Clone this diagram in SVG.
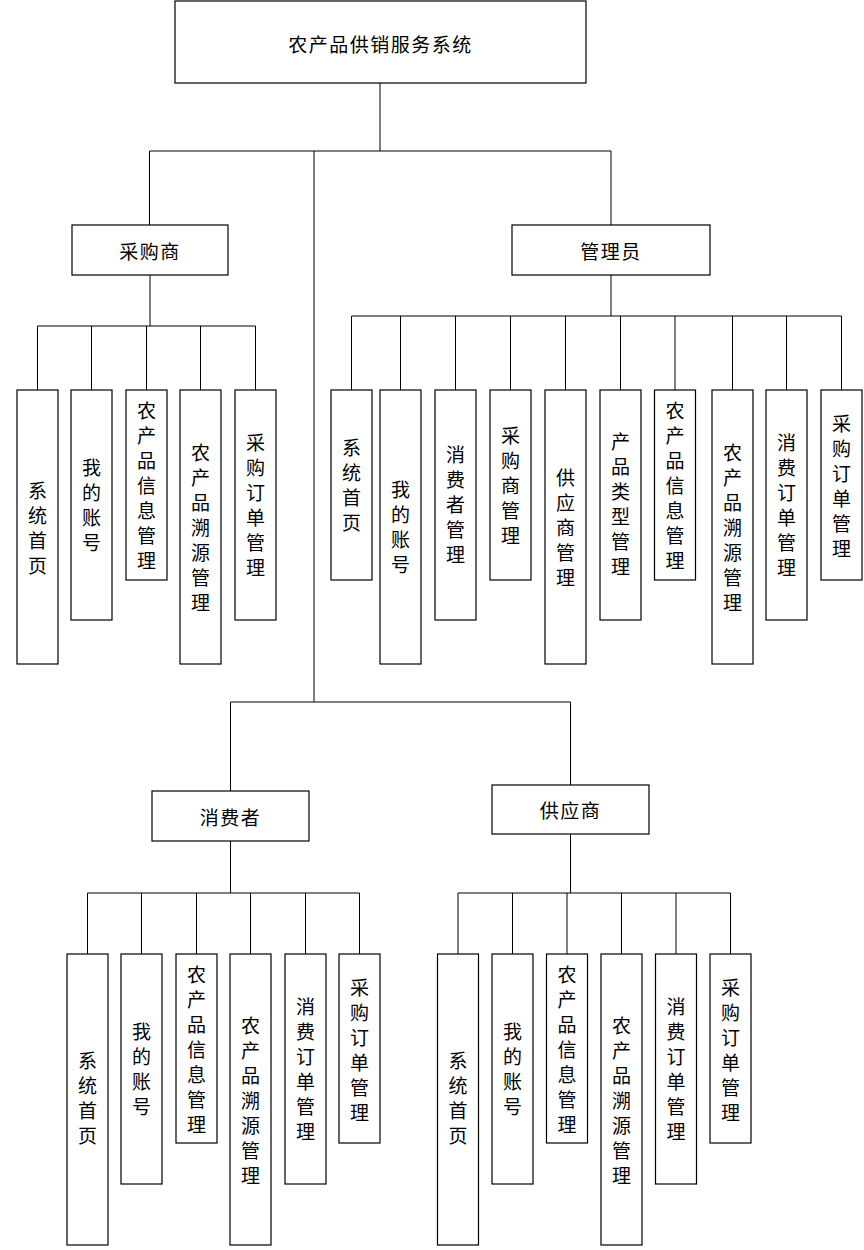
<svg xmlns="http://www.w3.org/2000/svg" width="864" height="1250" viewBox="0 0 864 1250">
<style>
.box{fill:#fff;stroke:#000;stroke-width:1.2}
.ln{stroke:#000;stroke-width:1;fill:none}
text{font-family:"Noto Sans CJK SC","Liberation Sans",sans-serif;font-size:19px;fill:#000;text-anchor:middle;dominant-baseline:central}
.h{font-size:19px;letter-spacing:1.5px}
</style>
<rect width="864" height="1250" fill="#fff"/>
<g id="connectors" class="ln">
<path d="M380 83V151M149.5 151H611M149.5 151V225M611 151V225M314 151V702M230.5 702H570.5M230.5 702V791M570.5 702V785"/>
<path d="M150 275V326M37.5 326H255.5M37.5 326V390M91.5 326V390M146.5 326V390M200.5 326V390M255.5 326V390"/>
<path d="M611 275V316M351.5 316H841.5M351.5 316V390M400.5 316V390M455.5 316V390M510.5 316V390M565.5 316V390M620.5 316V390M675 316V390M732.5 316V390M786.5 316V390M841.5 316V390"/>
<path d="M230.5 841V893M87.5 893H359.5M87.5 893V954M141.5 893V954M196.5 893V954M250.5 893V954M305.5 893V954M359.5 893V954"/>
<path d="M570.5 834V893M458 893H730.5M458 893V954M512.5 893V954M567 893V954M621.5 893V954M676 893V954M730.5 893V954"/>
</g>
<g id="root"><rect class="box" x="175" y="1" width="411" height="82"/><text class="h" x="380.5" y="43">农产品供销服务系统</text></g>
<g id="caigoushang"><rect class="box" x="72" y="225" width="156" height="50"/><text class="h" x="150" y="250">采购商</text></g>
<g id="guanliyuan"><rect class="box" x="512" y="225" width="198" height="50"/><text class="h" x="611" y="250">管理员</text></g>
<g id="xiaofeizhe"><rect class="box" x="152" y="791" width="157" height="50"/><text class="h" x="230.5" y="816">消费者</text></g>
<g id="gongyingshang"><rect class="box" x="492" y="785" width="157" height="49"/><text class="h" x="570.5" y="809.5">供应商</text></g>

<!-- 采购商 children -->
<g id="c1"><rect class="box" x="17" y="390" width="41" height="274"/><text x="37.5" y="489"><tspan x="37.5">系</tspan><tspan x="37.5" dy="25">统</tspan><tspan x="37.5" dy="25">首</tspan><tspan x="37.5" dy="25">页</tspan></text></g>
<g id="c2"><rect class="box" x="71" y="390" width="41" height="230"/><text x="91.5" y="466"><tspan x="91.5">我</tspan><tspan x="91.5" dy="25">的</tspan><tspan x="91.5" dy="25">账</tspan><tspan x="91.5" dy="25">号</tspan></text></g>
<g id="c3"><rect class="box" x="126" y="390" width="41" height="190"/><text x="146.5" y="409"><tspan x="146.5">农</tspan><tspan x="146.5" dy="25">产</tspan><tspan x="146.5" dy="25">品</tspan><tspan x="146.5" dy="25">信</tspan><tspan x="146.5" dy="25">息</tspan><tspan x="146.5" dy="25">管</tspan><tspan x="146.5" dy="25">理</tspan></text></g>
<g id="c4"><rect class="box" x="180" y="390" width="41" height="274"/><text x="200.5" y="451"><tspan x="200.5">农</tspan><tspan x="200.5" dy="25">产</tspan><tspan x="200.5" dy="25">品</tspan><tspan x="200.5" dy="25">溯</tspan><tspan x="200.5" dy="25">源</tspan><tspan x="200.5" dy="25">管</tspan><tspan x="200.5" dy="25">理</tspan></text></g>
<g id="c5"><rect class="box" x="235" y="390" width="41" height="230"/><text x="255.5" y="441"><tspan x="255.5">采</tspan><tspan x="255.5" dy="25">购</tspan><tspan x="255.5" dy="25">订</tspan><tspan x="255.5" dy="25">单</tspan><tspan x="255.5" dy="25">管</tspan><tspan x="255.5" dy="25">理</tspan></text></g>

<!-- 管理员 children -->
<g id="a1"><rect class="box" x="331" y="390" width="41" height="190"/><text x="351.5" y="446"><tspan x="351.5">系</tspan><tspan x="351.5" dy="25">统</tspan><tspan x="351.5" dy="25">首</tspan><tspan x="351.5" dy="25">页</tspan></text></g>
<g id="a2"><rect class="box" x="380" y="390" width="41" height="274"/><text x="400.5" y="488"><tspan x="400.5">我</tspan><tspan x="400.5" dy="25">的</tspan><tspan x="400.5" dy="25">账</tspan><tspan x="400.5" dy="25">号</tspan></text></g>
<g id="a3"><rect class="box" x="435" y="390" width="41" height="230"/><text x="455.5" y="453"><tspan x="455.5">消</tspan><tspan x="455.5" dy="25">费</tspan><tspan x="455.5" dy="25">者</tspan><tspan x="455.5" dy="25">管</tspan><tspan x="455.5" dy="25">理</tspan></text></g>
<g id="a4"><rect class="box" x="490" y="390" width="41" height="190"/><text x="510.5" y="434"><tspan x="510.5">采</tspan><tspan x="510.5" dy="25">购</tspan><tspan x="510.5" dy="25">商</tspan><tspan x="510.5" dy="25">管</tspan><tspan x="510.5" dy="25">理</tspan></text></g>
<g id="a5"><rect class="box" x="545" y="390" width="41" height="274"/><text x="565.5" y="476"><tspan x="565.5">供</tspan><tspan x="565.5" dy="25">应</tspan><tspan x="565.5" dy="25">商</tspan><tspan x="565.5" dy="25">管</tspan><tspan x="565.5" dy="25">理</tspan></text></g>
<g id="a6"><rect class="box" x="600" y="390" width="41" height="230"/><text x="620.5" y="440"><tspan x="620.5">产</tspan><tspan x="620.5" dy="25">品</tspan><tspan x="620.5" dy="25">类</tspan><tspan x="620.5" dy="25">型</tspan><tspan x="620.5" dy="25">管</tspan><tspan x="620.5" dy="25">理</tspan></text></g>
<g id="a7"><rect class="box" x="654.5" y="390" width="41" height="190"/><text x="675" y="409"><tspan x="675">农</tspan><tspan x="675" dy="25">产</tspan><tspan x="675" dy="25">品</tspan><tspan x="675" dy="25">信</tspan><tspan x="675" dy="25">息</tspan><tspan x="675" dy="25">管</tspan><tspan x="675" dy="25">理</tspan></text></g>
<g id="a8"><rect class="box" x="712" y="390" width="41" height="274"/><text x="732.5" y="451"><tspan x="732.5">农</tspan><tspan x="732.5" dy="25">产</tspan><tspan x="732.5" dy="25">品</tspan><tspan x="732.5" dy="25">溯</tspan><tspan x="732.5" dy="25">源</tspan><tspan x="732.5" dy="25">管</tspan><tspan x="732.5" dy="25">理</tspan></text></g>
<g id="a9"><rect class="box" x="766" y="390" width="41" height="230"/><text x="786.5" y="441"><tspan x="786.5">消</tspan><tspan x="786.5" dy="25">费</tspan><tspan x="786.5" dy="25">订</tspan><tspan x="786.5" dy="25">单</tspan><tspan x="786.5" dy="25">管</tspan><tspan x="786.5" dy="25">理</tspan></text></g>
<g id="a10"><rect class="box" x="821" y="390" width="41" height="190"/><text x="841.5" y="422"><tspan x="841.5">采</tspan><tspan x="841.5" dy="25">购</tspan><tspan x="841.5" dy="25">订</tspan><tspan x="841.5" dy="25">单</tspan><tspan x="841.5" dy="25">管</tspan><tspan x="841.5" dy="25">理</tspan></text></g>

<!-- 消费者 children -->
<g id="x1"><rect class="box" x="67" y="954" width="41" height="291"/><text x="87.5" y="1059"><tspan x="87.5">系</tspan><tspan x="87.5" dy="25">统</tspan><tspan x="87.5" dy="25">首</tspan><tspan x="87.5" dy="25">页</tspan></text></g>
<g id="x2"><rect class="box" x="121" y="954" width="41" height="230"/><text x="141.5" y="1030"><tspan x="141.5">我</tspan><tspan x="141.5" dy="25">的</tspan><tspan x="141.5" dy="25">账</tspan><tspan x="141.5" dy="25">号</tspan></text></g>
<g id="x3"><rect class="box" x="176" y="954" width="41" height="189"/><text x="196.5" y="973"><tspan x="196.5">农</tspan><tspan x="196.5" dy="25">产</tspan><tspan x="196.5" dy="25">品</tspan><tspan x="196.5" dy="25">信</tspan><tspan x="196.5" dy="25">息</tspan><tspan x="196.5" dy="25">管</tspan><tspan x="196.5" dy="25">理</tspan></text></g>
<g id="x4"><rect class="box" x="230" y="954" width="41" height="291"/><text x="250.5" y="1024"><tspan x="250.5">农</tspan><tspan x="250.5" dy="25">产</tspan><tspan x="250.5" dy="25">品</tspan><tspan x="250.5" dy="25">溯</tspan><tspan x="250.5" dy="25">源</tspan><tspan x="250.5" dy="25">管</tspan><tspan x="250.5" dy="25">理</tspan></text></g>
<g id="x5"><rect class="box" x="285" y="954" width="41" height="230"/><text x="305.5" y="1005"><tspan x="305.5">消</tspan><tspan x="305.5" dy="25">费</tspan><tspan x="305.5" dy="25">订</tspan><tspan x="305.5" dy="25">单</tspan><tspan x="305.5" dy="25">管</tspan><tspan x="305.5" dy="25">理</tspan></text></g>
<g id="x6"><rect class="box" x="339" y="954" width="41" height="189"/><text x="359.5" y="986"><tspan x="359.5">采</tspan><tspan x="359.5" dy="25">购</tspan><tspan x="359.5" dy="25">订</tspan><tspan x="359.5" dy="25">单</tspan><tspan x="359.5" dy="25">管</tspan><tspan x="359.5" dy="25">理</tspan></text></g>

<!-- 供应商 children -->
<g id="g1"><rect class="box" x="437.5" y="954" width="41" height="291"/><text x="458" y="1059"><tspan x="458">系</tspan><tspan x="458" dy="25">统</tspan><tspan x="458" dy="25">首</tspan><tspan x="458" dy="25">页</tspan></text></g>
<g id="g2"><rect class="box" x="492" y="954" width="41" height="230"/><text x="512.5" y="1030"><tspan x="512.5">我</tspan><tspan x="512.5" dy="25">的</tspan><tspan x="512.5" dy="25">账</tspan><tspan x="512.5" dy="25">号</tspan></text></g>
<g id="g3"><rect class="box" x="546.5" y="954" width="41" height="189"/><text x="567" y="973"><tspan x="567">农</tspan><tspan x="567" dy="25">产</tspan><tspan x="567" dy="25">品</tspan><tspan x="567" dy="25">信</tspan><tspan x="567" dy="25">息</tspan><tspan x="567" dy="25">管</tspan><tspan x="567" dy="25">理</tspan></text></g>
<g id="g4"><rect class="box" x="601" y="954" width="41" height="291"/><text x="621.5" y="1024"><tspan x="621.5">农</tspan><tspan x="621.5" dy="25">产</tspan><tspan x="621.5" dy="25">品</tspan><tspan x="621.5" dy="25">溯</tspan><tspan x="621.5" dy="25">源</tspan><tspan x="621.5" dy="25">管</tspan><tspan x="621.5" dy="25">理</tspan></text></g>
<g id="g5"><rect class="box" x="655.5" y="954" width="41" height="230"/><text x="676" y="1005"><tspan x="676">消</tspan><tspan x="676" dy="25">费</tspan><tspan x="676" dy="25">订</tspan><tspan x="676" dy="25">单</tspan><tspan x="676" dy="25">管</tspan><tspan x="676" dy="25">理</tspan></text></g>
<g id="g6"><rect class="box" x="710" y="954" width="41" height="189"/><text x="730.5" y="986"><tspan x="730.5">采</tspan><tspan x="730.5" dy="25">购</tspan><tspan x="730.5" dy="25">订</tspan><tspan x="730.5" dy="25">单</tspan><tspan x="730.5" dy="25">管</tspan><tspan x="730.5" dy="25">理</tspan></text></g>
</svg>
